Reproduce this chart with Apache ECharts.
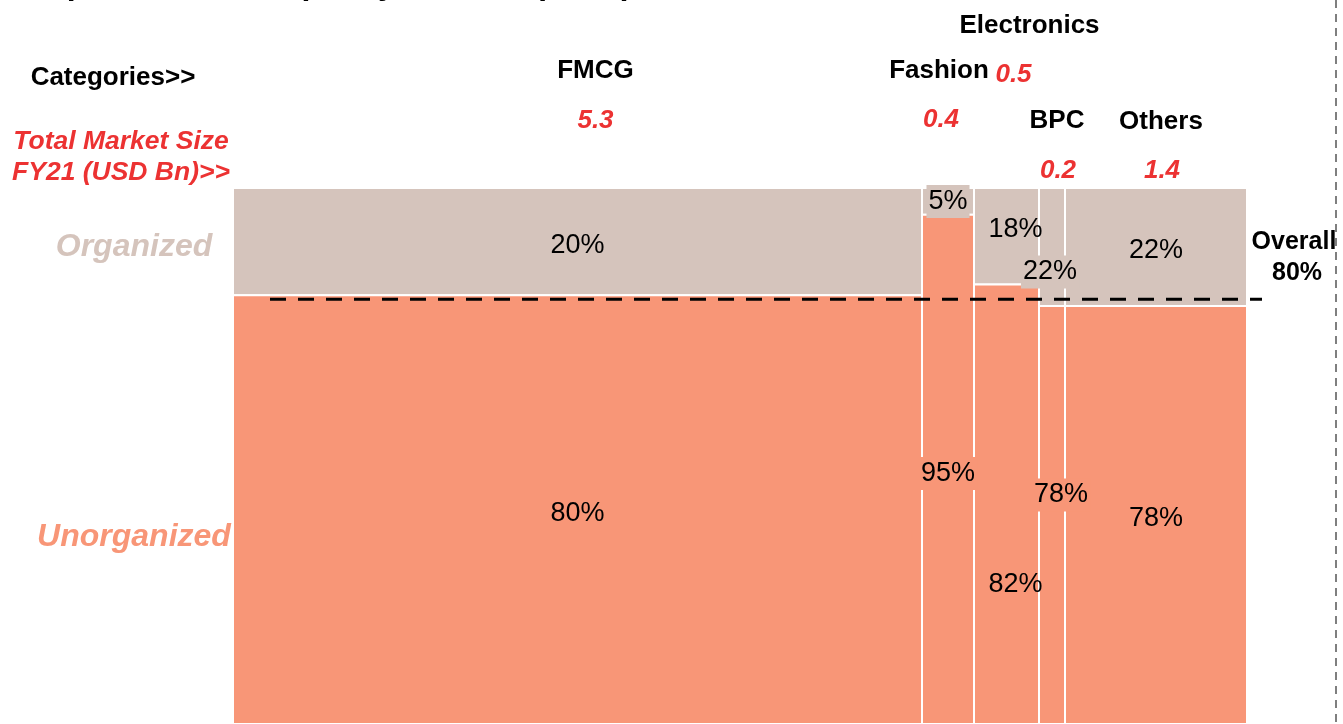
<!DOCTYPE html>
<html>
<head>
<meta charset="utf-8">
<title>Retail sales split by channel</title>
<script src="https://cdn.jsdelivr.net/npm/echarts@6/dist/echarts.min.js"></script>
<style>
  html, body { margin: 0; padding: 0; background: #ffffff; }
  #chart { width: 1343px; height: 724px; }
</style>
</head>
<body>
<div id="chart"></div>
<script>
// Market categories, their FY21 size (USD Bn) and channel split (%)
const categories = ['FMCG', 'Fashion', 'Electronics', 'BPC', 'Others'];
const marketSize = [5.3, 0.4, 0.5, 0.2, 1.4];
const organizedShare = [20, 5, 18, 22, 22];
const unorganizedShare = [80, 95, 82, 78, 78];
const overallUnorganized = 80;

const FONT = '"Liberation Sans", Arial, Helvetica, sans-serif';
const COLOR_ORG = '#D5C4BC';
const COLOR_UNORG = '#F89677';
const COLOR_RED = '#EC3232';

// Header placement relative to each column (px): name / value offsets from bar top
const headerLayout = {
  FMCG:        { nameDx: 18,  nameDy: -117, valDx: 18,  valDy: -67 },
  Fashion:     { nameDx: -9,  nameDy: -117, valDx: -7,  valDy: -68 },
  Electronics: { nameDx: 23,  nameDy: -162, valDx: 7,   valDy: -113 },
  BPC:         { nameDx: 5,   nameDy: -67,  valDx: 6,   valDy: -17 },
  Others:      { nameDx: 5,   nameDy: -66,  valDx: 6,   valDy: -17 }
};
// Nudges for percentage labels (px); every label sits slightly below the segment centre
const labelBaseShift = 4;
const labelNudge = {
  Fashion:     { org: [0, -4],  unorg: [0, 0] },
  Electronics: { org: [9, -11], unorg: [9, 76] },
  BPC:         { org: [-2, 21], unorg: [9, -24] }
};
// Narrow columns get a filled box behind their labels
const boxedLabels = { Fashion: true, BPC: true };

// Cumulative column extents along the x axis
const starts = [];
let acc = 0;
marketSize.forEach(v => { starts.push(acc); acc += v; });
const totalSize = Math.round(acc * 10) / 10;

const mosaicData = categories.map((c, i) => [starts[i], starts[i] + marketSize[i], unorganizedShare[i], i]);

function pctLabel(text, x, y, bg) {
  const style = {
    text: text, x: x, y: y + labelBaseShift,
    fill: '#000', font: '27px ' + FONT,
    align: 'center', verticalAlign: 'middle'
  };
  if (bg) { style.backgroundColor = bg; style.padding = [3, 2, 3, 2]; }
  return { type: 'text', z2: 10, style: style };
}

function renderMosaic(params, api) {
  const s = api.value(0), e = api.value(1), u = api.value(2), i = api.value(3);
  const name = categories[i];
  const pBot = api.coord([s, 0]);
  const pTop = api.coord([e, 100]);
  const pMid = api.coord([s, u]);
  const x0 = pBot[0], x1 = pTop[0], yBot = pBot[1], yTop = pTop[1], yMid = pMid[1];
  const cx = (x0 + x1) / 2;
  const nudge = labelNudge[name] || { org: [0, 0], unorg: [0, 0] };
  const boxed = boxedLabels[name];
  const hl = headerLayout[name];

  return {
    type: 'group',
    children: [
      { type: 'rect', shape: { x: x0, y: yTop, width: x1 - x0, height: yMid - yTop },
        style: { fill: COLOR_ORG, stroke: '#fff', lineWidth: 2 } },
      { type: 'rect', shape: { x: x0, y: yMid, width: x1 - x0, height: yBot - yMid },
        style: { fill: COLOR_UNORG, stroke: '#fff', lineWidth: 2 } },
      pctLabel(organizedShare[i] + '%', cx + nudge.org[0], (yTop + yMid) / 2 + nudge.org[1], boxed ? COLOR_ORG : null),
      pctLabel(unorganizedShare[i] + '%', cx + nudge.unorg[0], (yMid + yBot) / 2 + nudge.unorg[1], boxed ? COLOR_UNORG : null),
      { type: 'text', style: { text: name, x: cx + hl.nameDx, y: yTop + hl.nameDy,
          fill: '#000', font: 'bold 26px ' + FONT, align: 'center', verticalAlign: 'middle' } },
      { type: 'text', style: { text: marketSize[i].toFixed(1), x: cx + hl.valDx, y: yTop + hl.valDy,
          fill: COLOR_RED, font: 'italic bold 26px ' + FONT, align: 'center', verticalAlign: 'middle' } }
    ]
  };
}

function renderOverall(params, api) {
  const v = api.value(0);
  const pL = api.coord([0, v]);
  const pR = api.coord([totalSize, v]);
  const xEnd = pR[0] + 15;
  const yLine = pL[1] + 4;
  return {
    type: 'group',
    children: [
      { type: 'line', z2: 20, shape: { x1: pL[0] + 37, y1: yLine, x2: xEnd, y2: yLine },
        style: { stroke: '#000', lineWidth: 3, lineDash: [16, 12] } },
      { type: 'text', style: { text: 'Overall', x: pR[0] + 47, y: pL[1] - 53,
          fill: '#000', font: 'bold 25px ' + FONT, align: 'center', verticalAlign: 'middle' } },
      { type: 'text', style: { text: v + '%', x: pR[0] + 50, y: pL[1] - 22,
          fill: '#000', font: 'bold 25px ' + FONT, align: 'center', verticalAlign: 'middle' } }
    ]
  };
}

const chart = echarts.init(document.getElementById('chart'), null, { renderer: 'canvas' });
chart.setOption({
  animation: false,
  backgroundColor: '#ffffff',
  grid: { left: 233, top: 188, width: 1014, height: 540 },
  xAxis: { type: 'value', min: 0, max: totalSize, show: false },
  yAxis: { type: 'value', min: 0, max: 100, show: false },
  graphic: [
    { type: 'text', left: 30, top: -31,
      style: { text: 'Top Retail Sales split by channel (FY21)', fill: '#000', font: 'bold 32px ' + FONT } },
    { type: 'text', x: 113, y: 78,
      style: { text: 'Categories>>', fill: '#000', font: 'bold 26px ' + FONT, align: 'center', verticalAlign: 'middle' } },
    { type: 'text', x: 121, y: 142,
      style: { text: 'Total Market Size', fill: COLOR_RED, font: 'italic bold 26.5px ' + FONT, align: 'center', verticalAlign: 'middle' } },
    { type: 'text', x: 121, y: 173,
      style: { text: 'FY21 (USD Bn)>>', fill: COLOR_RED, font: 'italic bold 26.5px ' + FONT, align: 'center', verticalAlign: 'middle' } },
    { type: 'text', x: 134, y: 247,
      style: { text: 'Organized', fill: COLOR_ORG, font: 'italic bold 32px ' + FONT, align: 'center', verticalAlign: 'middle' } },
    { type: 'text', x: 134, y: 537,
      style: { text: 'Unorganized', fill: COLOR_UNORG, font: 'italic bold 32px ' + FONT, align: 'center', verticalAlign: 'middle' } },
    { type: 'line', shape: { x1: 1336, y1: 0, x2: 1336, y2: 724 },
      style: { stroke: '#7f7f7f', lineWidth: 2, lineDash: [8, 6] } }
  ],
  series: [
    { type: 'custom', name: 'Channel split', renderItem: renderMosaic, data: mosaicData,
      clip: false, encode: { x: [0, 1], y: 2 } },
    { type: 'custom', name: 'Overall', renderItem: renderOverall, data: [[overallUnorganized]],
      clip: false, z: 5, encode: { y: 0 } }
  ]
});
</script>
</body>
</html>
